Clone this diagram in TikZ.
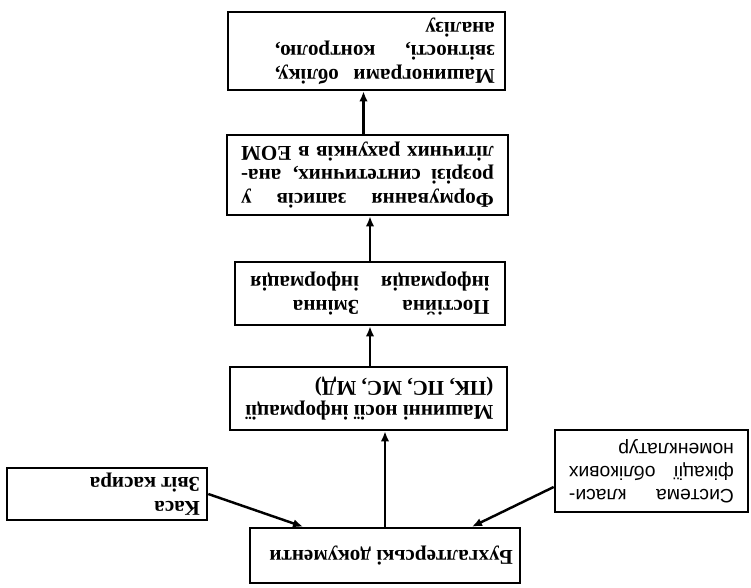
\documentclass[tikz,border=0pt]{standalone}
\usepackage{fontspec}
\setmainfont{Liberation Serif}
\newfontfamily\systfont{Liberation Sans}
\usepackage{tikz}
\usetikzlibrary{arrows.meta}

% upside-down paragraph (the scan is turned over)
\newcommand{\flip}[3][0cm]{\rotatebox{180}{\parbox{#2}{#3}\hspace*{#1}}}

\begin{document}
\begin{tikzpicture}[x=0.02cm, y=-0.02cm,
    box/.style={draw, line width=1.5pt, inner sep=0pt, font=\fontsize{12}{13.5}\selectfont\bfseries},
    arr/.style={line width=1.4pt, -{Latex[length=2mm, width=1.7mm]}}]
    \useasboundingbox (0,0) rectangle (751,588);

    % main column
    \node[box, minimum width=5.54cm, minimum height=1.56cm] (mash) at (366.5,51)
        {\flip[0.74cm]{4.4cm}{\parfillskip=0pt plus 1fil Машинограми обліку,\linebreak звітності, контролю,\linebreak аналізу}};
    \node[box, minimum width=5.62cm, minimum height=1.6cm] (form) at (367.5,175)
        {\flip{5.06cm}{\parfillskip=0pt Формування записів у\linebreak розрізі синтетичних, ана-\linebreak літичних рахунків в ЕОМ}};
    \node[box, minimum width=5.4cm, minimum height=1.26cm] (post) at (370,293.5)
        {\rotatebox{180}{\begin{tabular}{@{}l@{\hspace{0.44cm}}l@{}}Постійна & Змінна\\ інформація & інформація\end{tabular}}};
    \node[box, minimum width=5.54cm, minimum height=1.26cm] (nosii) at (368.5,398.5)
        {\flip{5.0cm}{\raggedright Машинні носії інформації\\(ПК, ПС, МС, МД)}};
    \node[box, minimum width=5.4cm, minimum height=1.1cm] (buh) at (385,555.5)
        {\flip{5.12cm}{\raggedright Бухгалтерські документи}};

    % sources
    \node[box, minimum width=4cm, minimum height=1.04cm] (kasa) at (107,494)
        {\flip{3.72cm}{\raggedright Каса\\Звіт касира}};
    \node[box, minimum width=3.86cm, minimum height=1.64cm, font=\systfont\fontsize{11}{13}\selectfont] (syst) at (651.5,471)
        {\flip{3.3cm}{Система класи-\linebreak фікації облікових\linebreak номенклатур}};

    \draw[arr] (kasa.east) -- ([xshift=-1.64cm]buh.north);
    \draw[arr] ([yshift=-0.32cm]syst.west) -- ([xshift=1.74cm]buh.north);
    \draw[arr] (buh.north) -- (buh.north |- nosii.south);
    \draw[arr] (nosii.north -| post.south) -- (post.south);
    \draw[arr] (post.north) -- (post.north |- form.south);
    \draw[arr] ([xshift=-0.08cm]form.north) -- ([xshift=-0.08cm]form.north |- mash.south);
\end{tikzpicture}
\end{document}
